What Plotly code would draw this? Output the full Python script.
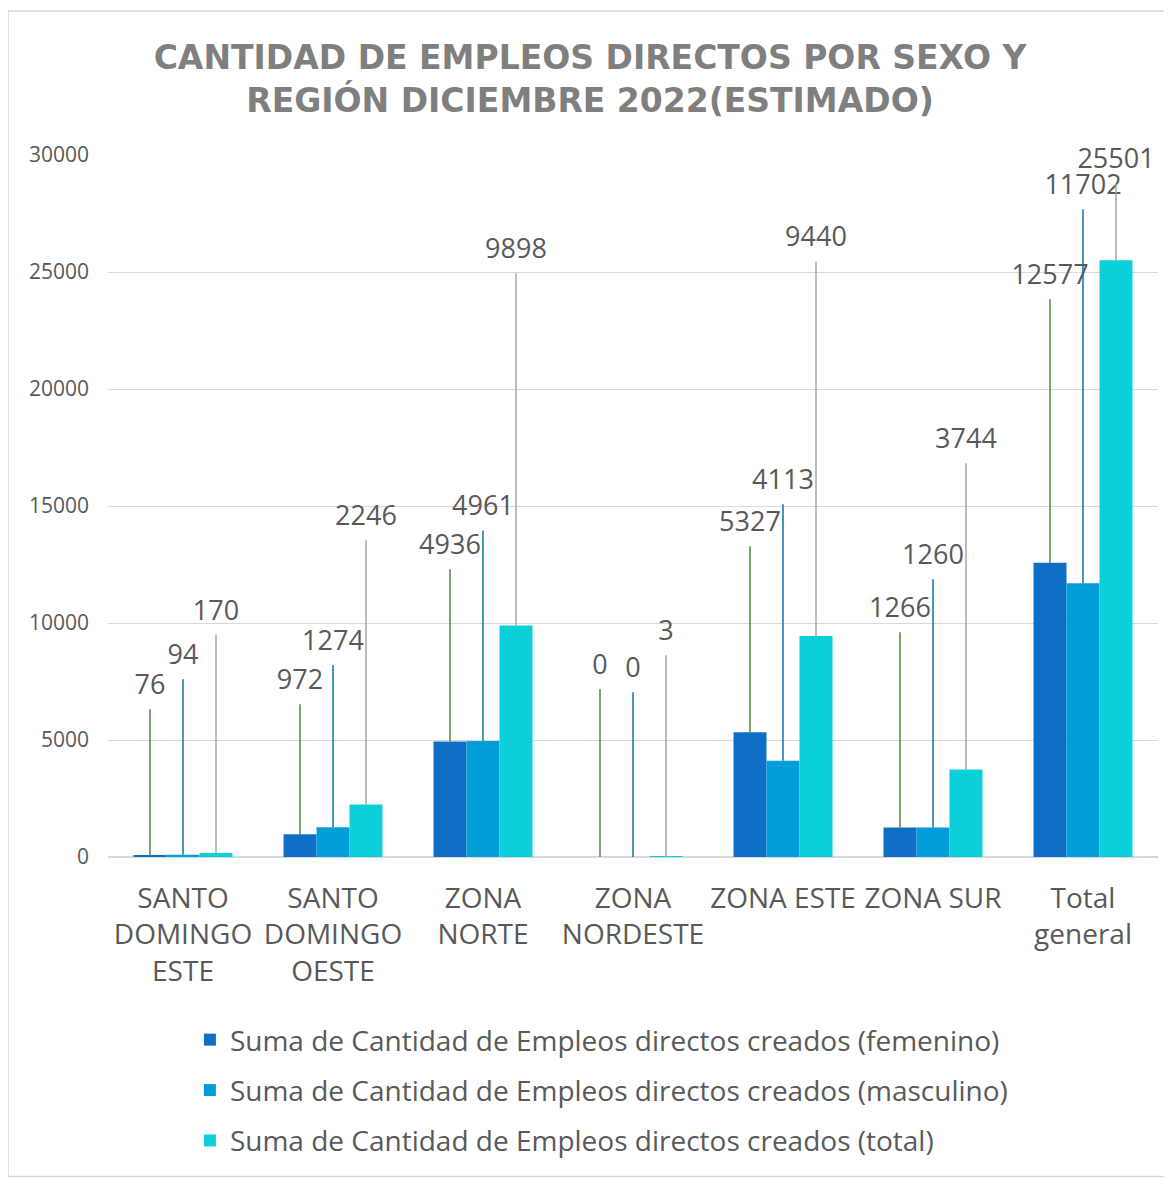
import plotly.graph_objects as go

# Datos
regiones = ["SANTO<br>DOMINGO<br>ESTE", "SANTO<br>DOMINGO<br>OESTE", "ZONA<br>NORTE",
            "ZONA<br>NORDESTE", "ZONA ESTE", "ZONA SUR", "Total<br>general"]
femenino = [76, 972, 4936, 0, 5327, 1266, 12577]
masculino = [94, 1274, 4961, 0, 4113, 1260, 11702]
total = [170, 2246, 9898, 3, 9440, 3744, 25501]

# Altura (en unidades del eje) donde Excel dejo cada etiqueta de datos
fem_etiqueta_y = [7260, 7480, 13250, 8120, 14230, 10560, 24790]
mas_etiqueta_y = [8550, 9150, 14900, 7990, 16030, 12820, 28630]
tot_etiqueta_y = [10430, 14490, 25900, 9570, 26400, 17780, 29740]

series = [
    ("Suma de Cantidad de Empleos directos creados (femenino)", femenino, fem_etiqueta_y, "#0F6FC6", "#4E8A3A"),
    ("Suma de Cantidad de Empleos directos creados (masculino)", masculino, mas_etiqueta_y, "#009DD9", "#0E74A8"),
    ("Suma de Cantidad de Empleos directos creados (total)", total, tot_etiqueta_y, "#0BD0D9", "#A6A6A6"),
]

ancho = 0.22
xs = list(range(len(regiones)))
texto_gris = "#595959"

fig = go.Figure()

# Barras
for k, (nombre, valores, _, color, _) in enumerate(series):
    fig.add_trace(go.Bar(
        x=xs, y=valores, name=nombre, width=ancho, offset=(k - 1.5) * ancho,
        marker=dict(color=color, line=dict(width=0)),
        legendgroup=str(k),
    ))

# Lineas guia y etiquetas de datos
for k, (nombre, valores, etiqueta_y, _, color_linea) in enumerate(series):
    centro = [x + (k - 1) * ancho for x in xs]
    lx, ly = [], []
    for c, v, e in zip(centro, valores, etiqueta_y):
        lx += [c, c, None]
        ly += [v, e - 950, None]
    fig.add_trace(go.Scatter(
        x=lx, y=ly, mode="lines", line=dict(color=color_linea, width=1.5),
        showlegend=False, hoverinfo="skip",
    ))
    fig.add_trace(go.Scatter(
        x=centro, y=etiqueta_y, mode="text", text=[str(v) for v in valores],
        textposition="middle center", cliponaxis=False,
        textfont=dict(family="Open Sans", size=27, color=texto_gris),
        showlegend=False, hoverinfo="skip",
    ))

fig.update_layout(
    width=1164, height=1172,
    paper_bgcolor="white", plot_bgcolor="white",
    font=dict(family="Open Sans", color=texto_gris),
    title=dict(
        text="CANTIDAD DE EMPLEOS DIRECTOS POR SEXO Y<br>REGIÓN DICIEMBRE 2022(ESTIMADO)",
        x=0.5, xanchor="center", y=0.948, yanchor="top",
        font=dict(family="DejaVu Sans", size=33, color="#7F7F7F", weight="bold"),
    ),
    margin=dict(l=100, r=14, t=147, b=323),
    barmode="overlay",
    showlegend=True,
    legend=dict(
        x=0.078, y=-0.225, xanchor="left", yanchor="top",
        orientation="v", tracegroupgap=11,
        font=dict(family="Open Sans", size=28, color=texto_gris),
    ),
    shapes=[dict(
        type="rect", xref="paper", yref="paper",
        x0=-0.0952, x1=1.0067, y0=-0.455, y1=1.205,
        line=dict(color="#D9D9D9", width=1.5), fillcolor="rgba(0,0,0,0)", layer="below",
    )],
)

fig.update_xaxes(
    tickmode="array", tickvals=xs, ticktext=regiones,
    range=[-0.5, len(regiones) - 0.5],
    showgrid=False, zeroline=False, showline=False, ticks="",
    tickfont=dict(family="Open Sans", size=28, color=texto_gris),
    ticklabelstandoff=22,
)
fig.update_yaxes(
    range=[0, 30000], tickvals=[0, 5000, 10000, 15000, 20000, 25000, 30000],
    tickformat="d",
    showgrid=True, gridcolor="#D9D9D9", gridwidth=1,
    zeroline=True, zerolinecolor="#D9D9D9", zerolinewidth=1.5,
    showline=False, ticks="",
    tickfont=dict(family="Open Sans", size=21, color=texto_gris),
    ticklabelstandoff=18,
)

fig.write_html("out.html")
